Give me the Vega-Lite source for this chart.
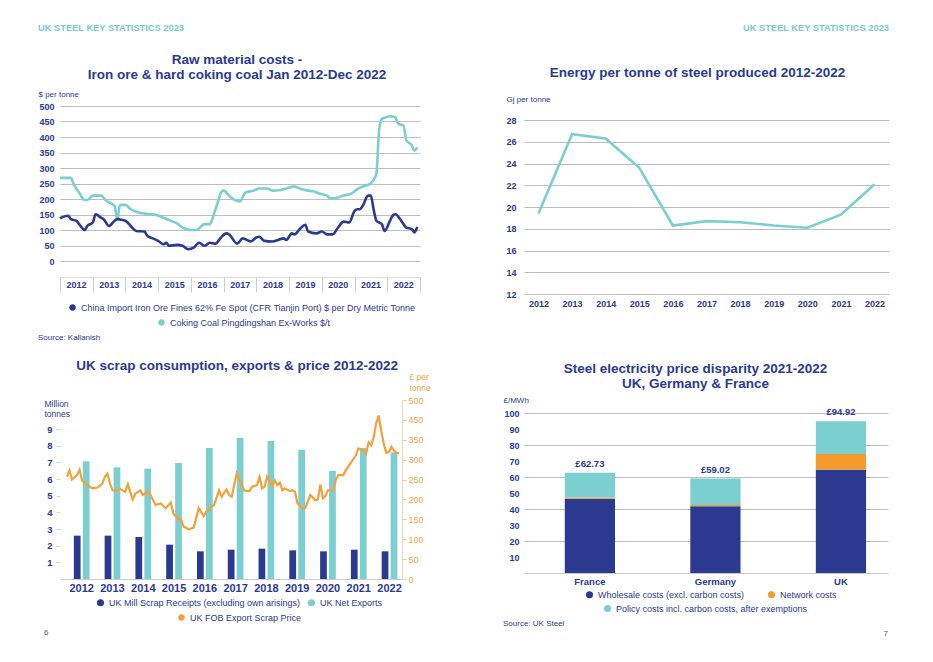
{
  "$schema": "https://vega.github.io/schema/vega-lite/v6.json",
  "background": "white",
  "padding": {"left": 38, "top": 24, "right": 10, "bottom": 5},
  "config": {
    "font": "Liberation Sans",
    "view": {"stroke": null},
    "axis": {"labelColor": "#2b3990", "labelFont": "Liberation Sans", "labelFontWeight": "bold", "labelFontSize": 9, "gridColor": "#bdbdbd", "titleColor": "#2b3990", "titleFont": "Liberation Sans", "titleFontWeight": "normal", "titleFontSize": 8, "domainColor": "#c8c8c8", "tickColor": "#c8c8c8"},
    "legend": {"labelColor": "#2b3990", "labelFont": "Liberation Sans", "labelFontSize": 9, "symbolType": "circle", "padding": 0, "labelLimit": 600, "title": null},
    "title": {"color": "#2b3990", "font": "Liberation Sans", "fontSize": 13.5, "fontWeight": "bold", "lineHeight": 15},
    "locale": {"number": {"decimal": ".", "thousands": ",", "grouping": [3], "currency": ["£", ""]}}
  },
  "datasets": {
    "ironore": [
      {"date":"2012-01-01","value":138},{"date":"2012-04-01","value":146},{"date":"2012-05-01","value":135},{"date":"2012-07-01","value":130},{"date":"2012-08-01","value":119},{"date":"2012-10-01","value":100},{"date":"2012-11-01","value":113},
      {"date":"2013-01-01","value":124},{"date":"2013-02-01","value":151},{"date":"2013-04-01","value":140},{"date":"2013-05-01","value":135},{"date":"2013-07-01","value":113},{"date":"2013-09-01","value":130},{"date":"2013-10-01","value":135},{"date":"2013-12-01","value":132},
      {"date":"2014-01-01","value":130},{"date":"2014-03-01","value":113},{"date":"2014-05-01","value":97},{"date":"2014-08-01","value":95},{"date":"2014-09-01","value":81},{"date":"2014-11-01","value":73},
      {"date":"2015-01-01","value":65},{"date":"2015-03-01","value":54},{"date":"2015-04-01","value":59},{"date":"2015-05-01","value":49},{"date":"2015-08-01","value":52},{"date":"2015-10-01","value":49},{"date":"2015-12-01","value":38},
      {"date":"2016-02-01","value":43},{"date":"2016-04-01","value":59},{"date":"2016-06-01","value":49},{"date":"2016-08-01","value":59},{"date":"2016-10-01","value":56},{"date":"2016-12-01","value":76},
      {"date":"2017-02-01","value":89},{"date":"2017-03-01","value":86},{"date":"2017-06-01","value":56},{"date":"2017-08-01","value":73},{"date":"2017-11-01","value":63},
      {"date":"2018-01-01","value":76},{"date":"2018-02-01","value":78},{"date":"2018-04-01","value":65},{"date":"2018-07-01","value":63},{"date":"2018-09-01","value":68},{"date":"2018-11-01","value":73},{"date":"2018-12-01","value":68},
      {"date":"2019-02-01","value":89},{"date":"2019-03-01","value":86},{"date":"2019-05-01","value":103},{"date":"2019-07-01","value":117},{"date":"2019-08-01","value":95},{"date":"2019-11-01","value":89},
      {"date":"2020-01-01","value":95},{"date":"2020-03-01","value":86},{"date":"2020-05-01","value":86},{"date":"2020-07-01","value":108},{"date":"2020-09-01","value":127},{"date":"2020-11-01","value":124},
      {"date":"2021-01-01","value":162},{"date":"2021-02-01","value":167},{"date":"2021-03-01","value":167},{"date":"2021-04-01","value":178},{"date":"2021-06-01","value":211},{"date":"2021-07-01","value":211},{"date":"2021-08-01","value":167},{"date":"2021-09-01","value":130},{"date":"2021-11-01","value":119},{"date":"2021-12-01","value":97},
      {"date":"2022-02-01","value":130},{"date":"2022-03-01","value":146},{"date":"2022-04-01","value":151},{"date":"2022-06-01","value":132},{"date":"2022-08-01","value":108},{"date":"2022-10-01","value":103},{"date":"2022-11-01","value":92},{"date":"2022-12-01","value":110}
    ],
    "coal": [
      {"date":"2012-01-01","value":268},{"date":"2012-05-01","value":268},{"date":"2012-06-01","value":248},{"date":"2012-08-01","value":221},{"date":"2012-10-01","value":197},{"date":"2012-11-01","value":197},
      {"date":"2013-01-01","value":211},{"date":"2013-04-01","value":211},{"date":"2013-06-01","value":194},{"date":"2013-09-01","value":178},{"date":"2013-10-01","value":135},{"date":"2013-11-01","value":181},
      {"date":"2014-01-01","value":181},{"date":"2014-03-01","value":167},{"date":"2014-05-01","value":159},{"date":"2014-08-01","value":153},{"date":"2014-10-01","value":151},{"date":"2014-12-01","value":149},
      {"date":"2015-03-01","value":140},{"date":"2015-05-01","value":132},{"date":"2015-08-01","value":121},{"date":"2015-10-01","value":108},
      {"date":"2016-01-01","value":100},{"date":"2016-03-01","value":100},{"date":"2016-06-01","value":119},{"date":"2016-08-01","value":119},{"date":"2016-09-01","value":140},{"date":"2016-11-01","value":194},{"date":"2016-12-01","value":221},
      {"date":"2017-01-01","value":227},{"date":"2017-03-01","value":211},{"date":"2017-05-01","value":197},{"date":"2017-07-01","value":192},{"date":"2017-09-01","value":221},{"date":"2017-12-01","value":227},
      {"date":"2018-02-01","value":234},{"date":"2018-05-01","value":234},{"date":"2018-07-01","value":227},{"date":"2018-10-01","value":229},{"date":"2018-12-01","value":234},
      {"date":"2019-03-01","value":240},{"date":"2019-05-01","value":234},{"date":"2019-08-01","value":227},{"date":"2019-10-01","value":225},{"date":"2019-12-01","value":218},
      {"date":"2020-03-01","value":211},{"date":"2020-04-01","value":202},{"date":"2020-07-01","value":205},{"date":"2020-09-01","value":211},{"date":"2020-12-01","value":218},
      {"date":"2021-02-01","value":232},{"date":"2021-04-01","value":240},{"date":"2021-07-01","value":251},{"date":"2021-09-01","value":281},{"date":"2021-10-01","value":420},{"date":"2021-11-01","value":458},{"date":"2021-12-01","value":462},
      {"date":"2022-02-01","value":467},{"date":"2022-04-01","value":464},{"date":"2022-05-01","value":443},{"date":"2022-07-01","value":437},{"date":"2022-08-01","value":389},{"date":"2022-10-01","value":373},{"date":"2022-11-01","value":356},{"date":"2022-12-01","value":367}
    ],
    "energy": [
      {"year":"2012","value":19.4},{"year":"2013","value":26.7},{"year":"2014","value":26.3},{"year":"2015","value":23.6},{"year":"2016","value":18.3},{"year":"2017","value":18.7},{"year":"2018","value":18.6},{"year":"2019","value":18.3},{"year":"2020","value":18.1},{"year":"2021","value":19.3},{"year":"2022","value":22.1}
    ],
    "scrap": [
      {"year":"2012","series":"receipts","value":2.6},{"year":"2012","series":"exports","value":7.06},
      {"year":"2013","series":"receipts","value":2.6},{"year":"2013","series":"exports","value":6.7},
      {"year":"2014","series":"receipts","value":2.52},{"year":"2014","series":"exports","value":6.62},
      {"year":"2015","series":"receipts","value":2.06},{"year":"2015","series":"exports","value":6.96},
      {"year":"2016","series":"receipts","value":1.66},{"year":"2016","series":"exports","value":7.86},
      {"year":"2017","series":"receipts","value":1.76},{"year":"2017","series":"exports","value":8.46},
      {"year":"2018","series":"receipts","value":1.82},{"year":"2018","series":"exports","value":8.28},
      {"year":"2019","series":"receipts","value":1.72},{"year":"2019","series":"exports","value":7.76},
      {"year":"2020","series":"receipts","value":1.66},{"year":"2020","series":"exports","value":6.48},
      {"year":"2021","series":"receipts","value":1.76},{"year":"2021","series":"exports","value":7.86},
      {"year":"2022","series":"receipts","value":1.66},{"year":"2022","series":"exports","value":7.6}
    ],
    "scrapprice": [
      {"date":"2012-01-01","price":257},{"date":"2012-02-01","price":273},{"date":"2012-03-01","price":250},{"date":"2012-05-01","price":261},{"date":"2012-06-01","price":275},{"date":"2012-07-01","price":247},{"date":"2012-09-01","price":236},{"date":"2012-10-01","price":232},{"date":"2012-11-01","price":228},
      {"date":"2013-01-01","price":230},{"date":"2013-03-01","price":240},{"date":"2013-04-01","price":257},{"date":"2013-05-01","price":265},{"date":"2013-06-01","price":240},{"date":"2013-07-01","price":223},{"date":"2013-09-01","price":222},{"date":"2013-10-01","price":226},{"date":"2013-12-01","price":219},
      {"date":"2014-01-01","price":238},{"date":"2014-03-01","price":200},{"date":"2014-04-01","price":215},{"date":"2014-06-01","price":223},{"date":"2014-07-01","price":211},{"date":"2014-09-01","price":221},{"date":"2014-10-01","price":211},{"date":"2014-12-01","price":186},
      {"date":"2015-02-01","price":190},{"date":"2015-04-01","price":178},{"date":"2015-06-01","price":192},{"date":"2015-07-01","price":165},{"date":"2015-09-01","price":150},{"date":"2015-10-01","price":150},{"date":"2015-11-01","price":132},
      {"date":"2016-01-01","price":125},{"date":"2016-03-01","price":129},{"date":"2016-04-01","price":153},{"date":"2016-05-01","price":178},{"date":"2016-07-01","price":158},{"date":"2016-08-01","price":169},{"date":"2016-10-01","price":182},{"date":"2016-11-01","price":186},
      {"date":"2017-01-01","price":223},{"date":"2017-02-01","price":207},{"date":"2017-04-01","price":225},{"date":"2017-05-01","price":211},{"date":"2017-06-01","price":207},{"date":"2017-08-01","price":265},{"date":"2017-10-01","price":236},{"date":"2017-11-01","price":222},
      {"date":"2018-01-01","price":221},{"date":"2018-02-01","price":232},{"date":"2018-04-01","price":236},{"date":"2018-05-01","price":257},{"date":"2018-06-01","price":228},{"date":"2018-07-01","price":232},{"date":"2018-08-01","price":257},{"date":"2018-10-01","price":233},{"date":"2018-11-01","price":248},{"date":"2018-12-01","price":236},
      {"date":"2019-01-01","price":242},{"date":"2019-02-01","price":223},{"date":"2019-03-01","price":228},{"date":"2019-05-01","price":221},{"date":"2019-06-01","price":223},{"date":"2019-07-01","price":219},{"date":"2019-08-01","price":190},{"date":"2019-10-01","price":178},{"date":"2019-11-01","price":178},
      {"date":"2020-01-01","price":211},{"date":"2020-03-01","price":198},{"date":"2020-04-01","price":200},{"date":"2020-05-01","price":238},{"date":"2020-06-01","price":203},{"date":"2020-07-01","price":209},{"date":"2020-08-01","price":223},{"date":"2020-10-01","price":223},{"date":"2020-11-01","price":248},{"date":"2020-12-01","price":261},
      {"date":"2021-02-01","price":261},{"date":"2021-03-01","price":273},{"date":"2021-05-01","price":292},{"date":"2021-07-01","price":311},{"date":"2021-08-01","price":328},{"date":"2021-10-01","price":323},{"date":"2021-11-01","price":315},{"date":"2021-12-01","price":344},
      {"date":"2022-01-01","price":336},{"date":"2022-02-01","price":357},{"date":"2022-03-01","price":390},{"date":"2022-04-01","price":411},{"date":"2022-05-01","price":373},{"date":"2022-06-01","price":340},{"date":"2022-07-01","price":317},{"date":"2022-08-01","price":319},{"date":"2022-09-01","price":332},{"date":"2022-10-01","price":323},{"date":"2022-11-01","price":317},{"date":"2022-12-01","price":317}
    ],
    "electricity": [
      {"country":"France","component":"Wholesale costs (excl. carbon costs)","value":46.4},
      {"country":"France","component":"Network costs","value":0.8},
      {"country":"France","component":"Policy costs incl. carbon costs, after exemptions","value":15.53},
      {"country":"Germany","component":"Wholesale costs (excl. carbon costs)","value":41.7},
      {"country":"Germany","component":"Network costs","value":0.8},
      {"country":"Germany","component":"Policy costs incl. carbon costs, after exemptions","value":16.52},
      {"country":"UK","component":"Wholesale costs (excl. carbon costs)","value":64.6},
      {"country":"UK","component":"Network costs","value":9.8},
      {"country":"UK","component":"Policy costs incl. carbon costs, after exemptions","value":20.52}
    ]
  },
  "resolve": {"scale": {"color": "independent", "stroke": "independent", "fill": "independent"}, "legend": {"color": "independent", "stroke": "independent", "fill": "independent"}},
  "spacing": 67,
  "hconcat": [
    {
      "title": {"text": "UK STEEL KEY STATISTICS 2023", "anchor": "start", "frame": "bounds", "font": "Liberation Sans Narrow, Liberation Sans", "fontSize": 9.3, "fontWeight": "bold", "color": "#76cdd0", "offset": 19},
      "spacing": 16,
      "resolve": {"scale": {"color": "independent", "stroke": "independent"}, "legend": {"color": "independent", "stroke": "independent"}},
      "vconcat": [
        {
          "title": {"text": ["Raw material costs -", "Iron ore & hard coking coal Jan 2012-Dec 2022"], "anchor": "middle", "frame": "bounds", "offset": 9},
          "resolve": {"scale": {"color": "independent", "stroke": "independent"}, "legend": {"color": "independent", "stroke": "independent"}},
          "vconcat": [
            {
              "width": 360,
              "height": 155,
              "title": {"text": "Source: Kallanish", "orient": "bottom", "anchor": "start", "frame": "bounds", "fontSize": 8, "fontWeight": "normal", "color": "#2b3990", "offset": 3},
              "encoding": {
                "x": {"field": "date", "type": "temporal",
                  "scale": {"type": "utc", "domain": [{"year": 2012, "month": 1, "date": 1, "utc": true}, {"year": 2023, "month": 1, "date": 1, "utc": true}]},
                  "axis": {"values": [{"year": 2012, "month": 1, "date": 1, "utc": true}, {"year": 2013, "month": 1, "date": 1, "utc": true}, {"year": 2014, "month": 1, "date": 1, "utc": true}, {"year": 2015, "month": 1, "date": 1, "utc": true}, {"year": 2016, "month": 1, "date": 1, "utc": true}, {"year": 2017, "month": 1, "date": 1, "utc": true}, {"year": 2018, "month": 1, "date": 1, "utc": true}, {"year": 2019, "month": 1, "date": 1, "utc": true}, {"year": 2020, "month": 1, "date": 1, "utc": true}, {"year": 2021, "month": 1, "date": 1, "utc": true}, {"year": 2022, "month": 1, "date": 1, "utc": true}, {"year": 2023, "month": 1, "date": 1, "utc": true}],
                    "labelExpr": "utcyear(datum.value) > 2022 ? '' : '' + utcyear(datum.value)",
                    "offset": 16, "grid": false, "domain": true, "domainColor": "#dcdcdc", "ticks": true, "tickColor": "#cfcfcf", "tickSize": 15,
                    "labelPadding": -12, "labelOffset": 16, "labelFlush": false, "labelOverlap": false, "labelBound": false, "labelFontSize": 9, "title": null}},
                "y": {"field": "value", "type": "quantitative", "scale": {"domain": [0, 500], "nice": false},
                  "axis": {"values": [0, 50, 100, 150, 200, 250, 300, 350, 400, 450, 500], "domain": false, "ticks": false, "labelPadding": 6, "grid": true, "labelOverlap": false,
                    "title": "$ per tonne", "titleAngle": 0, "titleAlign": "left", "titleBaseline": "middle", "titleX": -22, "titleY": -12}}
              },
              "layer": [
                {
                  "data": {"name": "coal"},
                  "mark": {"type": "line", "strokeWidth": 2.6, "interpolate": "monotone"},
                  "encoding": {
                    "stroke": {"datum": "Coking Coal Pingdingshan Ex-Works $/t", "type": "nominal", "scale": {"range": ["#7ccfd0"]},
                      "legend": {"orient": "none", "legendX": 97, "legendY": 212, "symbolType": "circle", "symbolSize": 10, "symbolStrokeWidth": 3.4}}
                  }
                },
                {
                  "data": {"name": "ironore"},
                  "mark": {"type": "line", "strokeWidth": 2.6, "interpolate": "monotone"},
                  "encoding": {
                    "color": {"datum": "China Import Iron Ore Fines 62% Fe Spot (CFR Tianjin Port) $ per Dry Metric Tonne", "type": "nominal", "scale": {"range": ["#2b3990"]},
                      "legend": {"orient": "none", "legendX": 8, "legendY": 197, "symbolType": "circle", "symbolSize": 10, "symbolStrokeWidth": 3.4}}
                  }
                }
              ]
            }
          ]
        },
        {
          "title": {"text": "6", "orient": "bottom", "anchor": "start", "frame": "bounds", "fontSize": 8, "fontWeight": "normal", "color": "#555555", "offset": 3},
          "resolve": {"scale": {"color": "independent", "stroke": "independent"}, "legend": {"color": "independent", "stroke": "independent"}},
          "vconcat": [
            {
              "width": 342,
              "height": 179,
              "title": {"text": "UK scrap consumption, exports & price 2012-2022", "anchor": "middle", "frame": "bounds", "offset": 0},
              "layer": [
                {
                  "data": {"name": "scrap"},
                  "mark": {"type": "bar"},
                  "encoding": {
                    "x": {"field": "year", "type": "ordinal", "scale": {"paddingInner": 0.49, "paddingOuter": 0.3, "align": 0.75},
                      "axis": {"labelAngle": 0, "labelFontSize": 11, "labelPadding": 3, "ticks": false, "domain": true, "domainColor": "#cccccc", "title": null}},
                    "xOffset": {"field": "series", "type": "nominal", "sort": ["receipts", "exports"], "scale": {"paddingInner": 0.25}},
                    "y": {"field": "value", "type": "quantitative", "scale": {"domain": [0, 10.74], "nice": false},
                      "axis": {"values": [1, 2, 3, 4, 5, 6, 7, 8, 9], "grid": false, "domain": false, "ticks": true, "tickSize": 4, "tickColor": "#d5d5d5", "labelPadding": 4, "labelFontSize": 9.5, "labelOverlap": false,
                        "title": ["Million", "tonnes"], "titleAngle": 0, "titleAlign": "left", "titleBaseline": "top", "titleX": -16, "titleY": -1, "titleFontSize": 8.5, "titleLineHeight": 10}},
                    "color": {"field": "series", "type": "nominal", "sort": ["receipts", "exports"], "scale": {"domain": ["receipts", "exports"], "range": ["#2b3990", "#7ccfd0"]},
                      "legend": {"orient": "none", "legendX": 36, "legendY": 198, "direction": "horizontal", "symbolSize": 50, "columnPadding": 6,
                        "labelExpr": "datum.label == 'receipts' ? 'UK Mill Scrap Receipts (excluding own arisings)' : 'UK Net Exports'"}}
                  }
                },
                {
                  "data": {"name": "scrapprice"},
                  "mark": {"type": "line", "strokeWidth": 2.2},
                  "encoding": {
                    "x": {"field": "date", "type": "temporal", "scale": {"type": "utc", "domain": [{"year": 2011, "month": 10, "date": 10, "utc": true}, {"year": 2023, "month": 1, "date": 6, "utc": true}]}, "axis": null},
                    "y": {"field": "price", "type": "quantitative", "scale": {"domain": [0, 450], "nice": false},
                      "axis": {"orient": "right", "values": [0, 50, 100, 150, 200, 250, 300, 350, 400, 450],
                        "labelExpr": "datum.value == 400 ? '450' : datum.value == 450 ? '500' : datum.label",
                        "labelColor": "#f2a54a", "labelFontWeight": "normal", "labelFontSize": 9, "grid": false, "domain": true, "domainColor": "#f3d6b3", "ticks": true, "tickColor": "#e9c9a3", "tickSize": 4, "labelPadding": 2, "labelOverlap": false,
                        "title": ["£ per", "tonne"], "titleColor": "#f2a54a", "titleAngle": 0, "titleAlign": "left", "titleBaseline": "top", "titleX": 7, "titleY": -28, "titleFontSize": 8.5, "titleLineHeight": 11}},
                    "stroke": {"datum": "UK FOB Export Scrap Price", "type": "nominal", "scale": {"range": ["#f4a13a"]},
                      "legend": {"orient": "none", "legendX": 117, "legendY": 213, "symbolType": "circle", "symbolSize": 10, "symbolStrokeWidth": 3.4}}
                  }
                }
              ],
              "resolve": {"scale": {"x": "independent", "y": "independent"}}
            }
          ]
        }
      ]
    },
    {
      "title": {"text": "UK STEEL KEY STATISTICS 2023", "anchor": "end", "frame": "bounds", "font": "Liberation Sans Narrow, Liberation Sans", "fontSize": 9.3, "fontWeight": "bold", "color": "#76cdd0", "offset": 32},
      "spacing": 53,
      "resolve": {"scale": {"color": "independent", "stroke": "independent", "fill": "independent"}, "legend": {"color": "independent", "stroke": "independent", "fill": "independent"}},
      "vconcat": [
        {
          "width": 365,
          "height": 188,
          "title": {"text": "Energy per tonne of steel produced 2012-2022", "anchor": "middle", "frame": "bounds", "offset": 16},
          "data": {"name": "energy"},
          "mark": {"type": "line", "strokeWidth": 2.6, "color": "#7ccfd0"},
          "encoding": {
            "x": {"field": "year", "type": "ordinal", "scale": {"type": "point", "padding": 0.43},
              "axis": {"labelAngle": 0, "ticks": false, "domain": false, "title": null, "labelPadding": 5, "labelFontSize": 9}},
            "y": {"field": "value", "type": "quantitative", "scale": {"domain": [12, 29.29], "nice": false, "zero": false},
              "axis": {"values": [12, 14, 16, 18, 20, 22, 24, 26, 28], "grid": true, "domain": false, "ticks": false, "labelPadding": 8, "labelOverlap": false,
                "title": "Gj per tonne", "titleAngle": 0, "titleAlign": "left", "titleBaseline": "middle", "titleX": -18, "titleY": -7}}
          }
        },
        {
          "title": {"text": "7", "orient": "bottom", "anchor": "end", "frame": "bounds", "fontSize": 8, "fontWeight": "normal", "color": "#555555", "offset": 2},
          "resolve": {"scale": {"color": "independent", "stroke": "independent", "fill": "independent"}, "legend": {"color": "independent", "stroke": "independent", "fill": "independent"}},
          "vconcat": [
            {
              "title": {"text": ["Steel electricity price disparity 2021-2022", "UK, Germany & France"], "anchor": "middle", "frame": "bounds", "offset": 6},
              "resolve": {"scale": {"color": "independent", "stroke": "independent", "fill": "independent"}, "legend": {"color": "independent", "stroke": "independent", "fill": "independent"}},
              "vconcat": [
                {
                  "width": 364,
                  "height": 160,
                  "title": {"text": "Source: UK Steel", "orient": "bottom", "anchor": "start", "frame": "bounds", "fontSize": 8, "fontWeight": "normal", "color": "#2b3990", "offset": 6},
                  "data": {"name": "electricity"},
                  "transform": [
                    {"calculate": "indexof(['Wholesale costs (excl. carbon costs)', 'Network costs', 'Policy costs incl. carbon costs, after exemptions'], datum.component)", "as": "stackorder"},
                    {"stack": "value", "groupby": ["country"], "sort": [{"field": "stackorder", "order": "ascending"}], "as": ["v0", "v1"]}
                  ],
                  "layer": [
                    {
                      "transform": [{"filter": "datum.component != 'Policy costs incl. carbon costs, after exemptions'"}],
                      "mark": {"type": "bar"},
                      "encoding": {
                        "x": {"field": "country", "type": "nominal", "sort": ["France", "Germany", "UK"], "scale": {"paddingInner": 0.6, "paddingOuter": 0.25, "align": 0.65},
                          "axis": {"labelAngle": 0, "labelFontSize": 9.5, "labelPadding": 3, "ticks": false, "domain": true, "domainColor": "#c8c8c8", "title": null}},
                        "y": {"field": "v1", "type": "quantitative", "title": "£/MWh", "scale": {"domain": [0, 100], "nice": false},
                          "axis": {"values": [10, 20, 30, 40, 50, 60, 70, 80, 90, 100], "grid": true, "gridColor": {"condition": {"test": "datum.value % 20 === 0", "value": "#bdbdbd"}, "value": "transparent"},
                            "labelOverlap": false, "domain": false, "ticks": false, "labelPadding": 5, "titleAngle": 0, "titleAlign": "left", "titleBaseline": "middle", "titleX": -21, "titleY": -13}},
                        "y2": {"field": "v0"},
                        "color": {"field": "component", "type": "nominal",
                          "scale": {"domain": ["Wholesale costs (excl. carbon costs)", "Network costs"], "range": ["#2b3990", "#f59a2c"]},
                          "legend": {"orient": "none", "legendX": 61, "legendY": 177, "direction": "horizontal", "columnPadding": 22, "symbolSize": 50}}
                      }
                    },
                    {
                      "transform": [{"filter": "datum.component == 'Policy costs incl. carbon costs, after exemptions'"}],
                      "mark": {"type": "bar"},
                      "encoding": {
                        "x": {"field": "country", "type": "nominal", "sort": ["France", "Germany", "UK"]},
                        "y": {"field": "v1", "type": "quantitative", "title": "£/MWh",
                          "axis": {"values": [10, 20, 30, 40, 50, 60, 70, 80, 90, 100], "grid": true, "gridColor": {"condition": {"test": "datum.value % 20 === 0", "value": "#bdbdbd"}, "value": "transparent"},
                            "labelOverlap": false, "domain": false, "ticks": false, "labelPadding": 5, "titleAngle": 0, "titleAlign": "left", "titleBaseline": "middle", "titleX": -21, "titleY": -13}},
                        "y2": {"field": "v0"},
                        "fill": {"datum": "Policy costs incl. carbon costs, after exemptions", "type": "nominal", "scale": {"range": ["#7ccfd0"]},
                          "legend": {"orient": "none", "legendX": 79, "legendY": 191, "symbolType": "circle", "symbolSize": 50}}
                      }
                    },
                    {
                      "transform": [{"aggregate": [{"op": "sum", "field": "value", "as": "total"}], "groupby": ["country"]}],
                      "mark": {"type": "text", "dy": -9, "fontWeight": "bold", "fontSize": 9.5, "color": "#2b3990", "baseline": "middle"},
                      "encoding": {
                        "x": {"field": "country", "type": "nominal", "sort": ["France", "Germany", "UK"]},
                        "y": {"field": "total", "type": "quantitative", "title": "£/MWh",
                          "axis": {"values": [10, 20, 30, 40, 50, 60, 70, 80, 90, 100], "grid": true, "gridColor": {"condition": {"test": "datum.value % 20 === 0", "value": "#bdbdbd"}, "value": "transparent"},
                            "labelOverlap": false, "domain": false, "ticks": false, "labelPadding": 5, "titleAngle": 0, "titleAlign": "left", "titleBaseline": "middle", "titleX": -21, "titleY": -13}},
                        "text": {"field": "total", "type": "quantitative", "format": "$.2f"}
                      }
                    }
                  ]
                }
              ]
            }
          ]
        }
      ]
    }
  ]
}
